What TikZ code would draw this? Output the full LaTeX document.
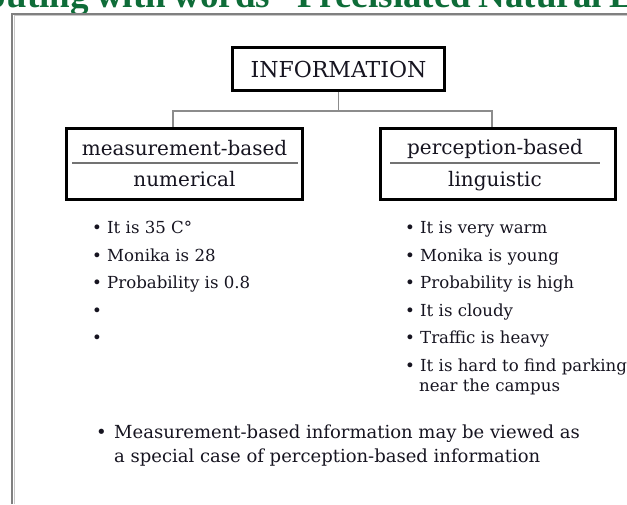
\documentclass[tikz,border=0pt]{standalone}
\usepackage{fontspec}
\setmainfont{DejaVu Serif}
\newfontfamily\titlefont{Liberation Serif}
\definecolor{titlegreen}{RGB}{14,108,56}
\definecolor{ink}{RGB}{22,20,32}
\newlength\leadw
% heading font with slightly narrowed word spaces
\newcommand\headfont{\titlefont\bfseries\fontsize{37}{40}\selectfont\spaceskip=0.2em plus 0.05em\relax}
% bullet followed by a fixed gap, so item texts line up
\newcommand\bul[1][15pt]{\makebox[#1][l]{•}}

\begin{document}
\settowidth\leadw{\headfont Computing with words - }
\begin{tikzpicture}[x=1pt,y=-1pt,
  box/.style={draw=black, line width=2.6pt, inner sep=0pt, text=ink},
  link/.style={draw=black!45, line width=1.5pt},
  divider/.style={draw=black!55, line width=1.3pt},
  frame/.style={draw=black!50, line width=2pt},
  boxlabel/.style={font=\fontsize{20}{24}\selectfont, text=ink, inner sep=0pt, anchor=base},
  item/.style={font=\fontsize{16.6}{20}\selectfont, text=ink, inner sep=0pt, anchor=base west},
  note/.style={font=\fontsize{18}{22}\selectfont, text=ink, inner sep=0pt, anchor=base west},
]
\useasboundingbox (0,0) rectangle (627,504);
\clip (0,0) rectangle (627,504);

% page heading, cut by the top edge
\node[anchor=base west, inner sep=0pt, text=titlegreen, font=\headfont]
  (title) at ([xshift=-\leadw]297,7) {Computing with words - Precisiated Natural Language};

% slide frame
\draw[draw=black!22, line width=1pt] (14,504) -- (14,15.5) -- (627,15.5);
\draw[frame] (12,504) -- (12,13.5) -- (627,13.5);

% boxes
\node[box, minimum width=212pt, minimum height=43pt,
      font=\fontsize{22}{26}\selectfont] (info) at (338.5,69) {INFORMATION};
\node[box, minimum width=236pt, minimum height=71pt] (meas) at (184.5,164) {};
\node[box, minimum width=235pt, minimum height=71pt] (perc) at (498,164) {};

\node[boxlabel] (meastop) at (184.5,155) {measurement-based};
\node[boxlabel] (measbot) at (184.5,186) {numerical};
\draw[divider] ([xshift=7pt,yshift=1pt]meas.west) -- ([xshift=-6pt,yshift=1pt]meas.east);

\node[boxlabel] (perctop) at (495,154) {perception-based};
\node[boxlabel] (percbot) at (495,186) {linguistic};
\draw[divider] ([xshift=11pt,yshift=1pt]perc.west) -- ([xshift=-17pt,yshift=1pt]perc.east);

% tree connectors
\coordinate (hub) at (338.5,111);
\draw[link] (info.south) -- (hub) -| ([xshift=-11.5pt]meas.north);
\draw[link] (hub) -| ([xshift=-6pt]perc.north);

% numerical examples
\node[item] (m1) at (92,233) {\bul It is 35 C°};
\node[item] (m2) at (92,261) {\bul Monika is 28};
\node[item] (m3) at (92,288) {\bul Probability is 0.8};
\node[item] (m4) at (92,316) {\bul};
\node[item] (m5) at (92,343) {\bul};

% linguistic examples
\node[item] (p1) at (405,233) {\bul It is very warm};
\node[item] (p2) at (405,261) {\bul Monika is young};
\node[item] (p3) at (405,288) {\bul Probability is high};
\node[item] (p4) at (405,316) {\bul It is cloudy};
\node[item] (p5) at (405,343) {\bul Traffic is heavy};
\node[item] (p6) at (405,371) {\bul It is hard to find parking};
\node[item] (p6b) at (419,391) {near the campus};

% closing remark
\node[note] (n1) at (96,438) {\bul[18pt]Measurement-based information may be viewed as};
\node[note] (n2) at (114,462) {a special case of perception-based information};
\end{tikzpicture}
\end{document}
